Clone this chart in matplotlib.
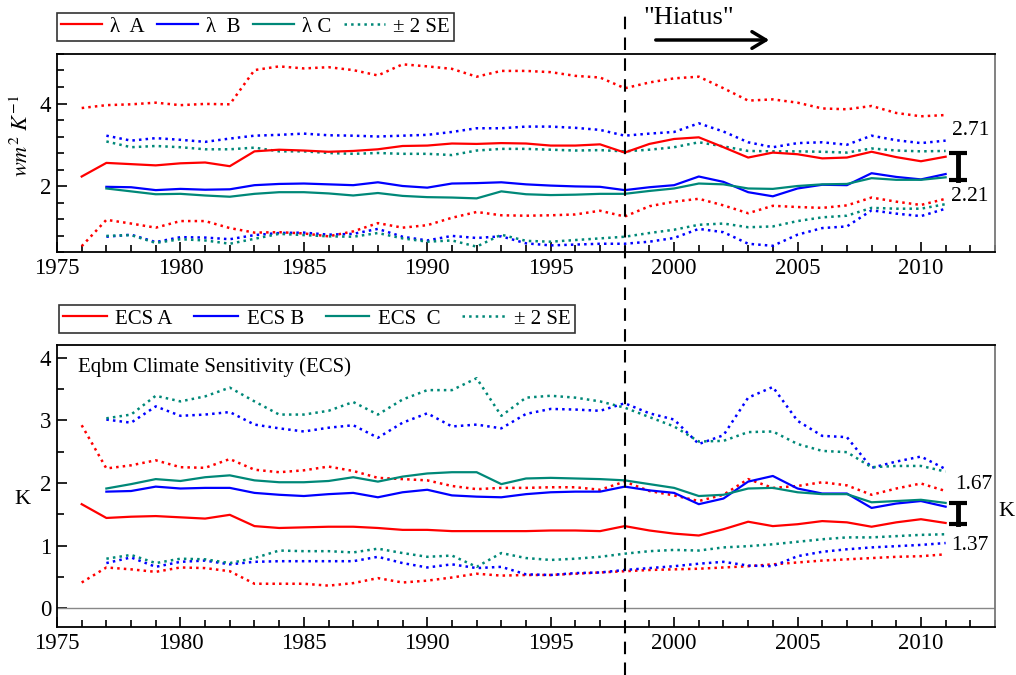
import matplotlib
matplotlib.use('Agg')
import matplotlib.pyplot as plt
from matplotlib.lines import Line2D
from matplotlib.patches import FancyArrowPatch
from matplotlib.ticker import MultipleLocator, FixedLocator

plt.rcParams['font.family'] = ['Liberation Serif', 'DejaVu Serif']
plt.rcParams['mathtext.fontset'] = 'stix'

# --- data ---
years = list(range(1976, 2012))

# top panel: lambda (wm^2 K^-1); A starts 1976, B and C start 1977
lam_a = [2.23, 2.56, 2.53, 2.50, 2.55, 2.57, 2.48, 2.84, 2.88, 2.86, 2.83, 2.85,
         2.89, 2.97, 2.98, 3.03, 3.02, 3.04, 3.03, 2.98, 2.98, 3.01, 2.81, 3.02,
         3.14, 3.18, 2.94, 2.69, 2.81, 2.77, 2.67, 2.69, 2.83, 2.70, 2.60, 2.71]
lam_a_hi = [3.89, 3.96, 3.98, 4.02, 3.96, 3.99, 3.98, 4.81, 4.90, 4.85, 4.88, 4.81,
            4.68, 4.95, 4.90, 4.84, 4.65, 4.79, 4.79, 4.76, 4.67, 4.63, 4.37, 4.51,
            4.61, 4.65, 4.37, 4.07, 4.10, 4.02, 3.88, 3.86, 3.94, 3.77, 3.69, 3.72]
lam_a_lo = [0.54, 1.18, 1.09, 0.99, 1.15, 1.15, 0.98, 0.87, 0.88, 0.85, 0.78, 0.90,
            1.10, 0.99, 1.05, 1.23, 1.37, 1.29, 1.28, 1.29, 1.31, 1.40, 1.26, 1.51,
            1.62, 1.69, 1.53, 1.34, 1.52, 1.49, 1.47, 1.53, 1.72, 1.62, 1.54, 1.69]
lam_b = [1.98, 1.97, 1.90, 1.93, 1.91, 1.92, 2.02, 2.05, 2.06, 2.04, 2.02, 2.09,
         2.00, 1.96, 2.06, 2.07, 2.09, 2.04, 2.01, 1.99, 1.98, 1.90, 1.97, 2.02,
         2.23, 2.10, 1.85, 1.75, 1.94, 2.03, 2.02, 2.31, 2.22, 2.16, 2.29]
lam_b_hi = [3.22, 3.10, 3.16, 3.12, 3.07, 3.15, 3.22, 3.24, 3.27, 3.23, 3.22, 3.20,
            3.22, 3.24, 3.31, 3.40, 3.40, 3.44, 3.44, 3.41, 3.36, 3.22, 3.27, 3.31,
            3.52, 3.32, 3.06, 2.94, 3.04, 3.06, 3.00, 3.22, 3.11, 3.04, 3.10]
lam_b_lo = [0.77, 0.82, 0.64, 0.76, 0.75, 0.71, 0.81, 0.86, 0.87, 0.82, 0.84, 0.96,
            0.77, 0.68, 0.79, 0.74, 0.78, 0.61, 0.56, 0.58, 0.60, 0.60, 0.65, 0.74,
            0.96, 0.88, 0.60, 0.55, 0.82, 0.98, 1.02, 1.41, 1.33, 1.27, 1.45]
lam_c = [1.94, 1.87, 1.80, 1.81, 1.77, 1.74, 1.81, 1.85, 1.85, 1.82, 1.77, 1.83,
         1.76, 1.73, 1.72, 1.70, 1.87, 1.80, 1.78, 1.79, 1.81, 1.81, 1.88, 1.94,
         2.06, 2.04, 1.94, 1.93, 2.00, 2.04, 2.05, 2.19, 2.15, 2.15, 2.21]
lam_c_hi = [3.08, 2.94, 2.97, 2.94, 2.89, 2.89, 2.93, 2.84, 2.84, 2.80, 2.78, 2.80,
            2.78, 2.78, 2.75, 2.86, 2.90, 2.90, 2.88, 2.86, 2.87, 2.84, 2.88, 2.94,
            3.06, 2.96, 2.85, 2.84, 2.84, 2.83, 2.81, 2.91, 2.86, 2.84, 2.85]
lam_c_lo = [0.79, 0.81, 0.62, 0.71, 0.68, 0.60, 0.72, 0.84, 0.81, 0.78, 0.77, 0.86,
            0.73, 0.65, 0.68, 0.53, 0.82, 0.67, 0.65, 0.69, 0.73, 0.77, 0.86, 0.94,
            1.06, 1.09, 1.00, 1.02, 1.15, 1.24, 1.28, 1.47, 1.45, 1.45, 1.56]

# bottom panel: ECS (K)
ecs_a = [1.66, 1.44, 1.46, 1.47, 1.45, 1.43, 1.49, 1.31, 1.28, 1.29, 1.30, 1.30,
         1.28, 1.25, 1.25, 1.23, 1.23, 1.23, 1.23, 1.24, 1.24, 1.23, 1.31, 1.24,
         1.19, 1.16, 1.26, 1.38, 1.31, 1.34, 1.39, 1.37, 1.30, 1.37, 1.42, 1.36]
ecs_a_hi = [2.92, 2.23, 2.28, 2.36, 2.25, 2.24, 2.38, 2.21, 2.17, 2.20, 2.26, 2.19,
            2.08, 2.06, 2.04, 1.95, 1.90, 1.92, 1.92, 1.93, 1.93, 1.89, 2.02, 1.87,
            1.80, 1.71, 1.81, 2.06, 1.92, 1.95, 2.01, 1.96, 1.81, 1.91, 1.99, 1.87]
ecs_a_lo = [0.41, 0.65, 0.62, 0.58, 0.65, 0.64, 0.59, 0.39, 0.39, 0.39, 0.36, 0.40,
            0.48, 0.41, 0.44, 0.49, 0.55, 0.52, 0.53, 0.53, 0.55, 0.57, 0.59, 0.61,
            0.62, 0.63, 0.65, 0.67, 0.70, 0.73, 0.76, 0.78, 0.80, 0.82, 0.83, 0.86]
ecs_b = [1.86, 1.87, 1.94, 1.91, 1.92, 1.92, 1.84, 1.81, 1.79, 1.82, 1.84, 1.77,
         1.85, 1.89, 1.80, 1.78, 1.77, 1.82, 1.85, 1.86, 1.86, 1.94, 1.88, 1.84,
         1.66, 1.75, 2.02, 2.11, 1.91, 1.83, 1.83, 1.60, 1.67, 1.71, 1.62]
ecs_b_hi = [3.01, 2.96, 3.22, 3.07, 3.09, 3.13, 2.93, 2.87, 2.82, 2.88, 2.92, 2.72,
            2.96, 3.11, 2.90, 2.93, 2.87, 3.10, 3.18, 3.17, 3.15, 3.27, 3.11, 3.01,
            2.62, 2.76, 3.36, 3.53, 2.99, 2.75, 2.73, 2.24, 2.34, 2.42, 2.22]
ecs_b_lo = [0.72, 0.81, 0.66, 0.74, 0.76, 0.70, 0.74, 0.75, 0.75, 0.75, 0.75, 0.82,
            0.72, 0.65, 0.70, 0.64, 0.66, 0.54, 0.53, 0.56, 0.57, 0.61, 0.64, 0.67,
            0.71, 0.74, 0.68, 0.67, 0.83, 0.90, 0.94, 0.97, 0.99, 1.01, 1.04]
ecs_c = [1.91, 1.98, 2.06, 2.03, 2.09, 2.12, 2.04, 2.01, 2.01, 2.03, 2.09, 2.02,
         2.10, 2.15, 2.17, 2.17, 1.98, 2.07, 2.08, 2.07, 2.06, 2.04, 1.98, 1.92,
         1.79, 1.81, 1.91, 1.92, 1.85, 1.82, 1.82, 1.69, 1.71, 1.73, 1.68]
ecs_c_hi = [3.03, 3.09, 3.39, 3.30, 3.38, 3.52, 3.30, 3.09, 3.09, 3.15, 3.29, 3.09,
            3.33, 3.48, 3.48, 3.67, 3.07, 3.36, 3.39, 3.36, 3.30, 3.20, 3.05, 2.90,
            2.66, 2.67, 2.81, 2.82, 2.62, 2.51, 2.49, 2.25, 2.27, 2.27, 2.18]
ecs_c_lo = [0.79, 0.85, 0.72, 0.79, 0.78, 0.72, 0.80, 0.92, 0.91, 0.91, 0.89, 0.95,
            0.88, 0.82, 0.84, 0.66, 0.88, 0.80, 0.77, 0.79, 0.82, 0.87, 0.91, 0.93,
            0.92, 0.97, 0.99, 1.02, 1.06, 1.10, 1.13, 1.13, 1.15, 1.17, 1.18]

hiatus_year = 1998
top_bar = [2.14, 2.81]
top_labels = ['2.71', '2.21']
bot_bar = [1.35, 1.68]
bot_labels = ['1.67', '1.37']

RED, BLUE, TEAL = '#ff0000', '#0000ff', '#008878'

fig = plt.figure(figsize=(10.16, 6.75), dpi=100)
W, H = 1016, 675
ax1 = fig.add_axes([57 / W, 1 - 252 / H, 938 / W, 198 / H])
ax2 = fig.add_axes([57 / W, 1 - 627 / H, 938 / W, 282 / H])

yrs_a = years
yrs_bc = years[1:]


def draw_panel(ax, a, a_hi, a_lo, b, b_hi, b_lo, c, c_hi, c_lo):
    lw, dlw = 1.6, 1.8
    ax.plot(yrs_a, a_hi, color=RED, lw=dlw, ls=':')
    ax.plot(yrs_a, a_lo, color=RED, lw=dlw, ls=':')
    ax.plot(yrs_bc, b_hi, color=BLUE, lw=dlw, ls=':')
    ax.plot(yrs_bc, b_lo, color=BLUE, lw=dlw, ls=':')
    ax.plot(yrs_bc, c_hi, color=TEAL, lw=dlw, ls=':')
    ax.plot(yrs_bc, c_lo, color=TEAL, lw=dlw, ls=':')
    ax.plot(yrs_a, a, color=RED, lw=lw)
    ax.plot(yrs_bc, b, color=BLUE, lw=lw)
    ax.plot(yrs_bc, c, color=TEAL, lw=lw)
    ax.set_xlim(1975, 2013)
    ax.xaxis.set_major_locator(MultipleLocator(5))
    ax.xaxis.set_minor_locator(MultipleLocator(1))
    ax.tick_params(which='both', direction='in', top=False, right=False,
                   labelsize=16.5, width=1.2)
    ax.tick_params(which='major', length=7, pad=4)
    ax.tick_params(which='minor', length=5)
    for s in ['left', 'bottom', 'top']:
        ax.spines[s].set_linewidth(1.3)
    ax.spines['right'].set_color('#777777')
    ax.spines['right'].set_linewidth(1.3)


draw_panel(ax1, lam_a, lam_a_hi, lam_a_lo, lam_b, lam_b_hi, lam_b_lo,
           lam_c, lam_c_hi, lam_c_lo)
draw_panel(ax2, ecs_a, ecs_a_hi, ecs_a_lo, ecs_b, ecs_b_hi, ecs_b_lo,
           ecs_c, ecs_c_hi, ecs_c_lo)

ax1.set_ylim(0.4, 5.2)
ax1.yaxis.set_major_locator(FixedLocator([2, 4]))
ax1.yaxis.set_minor_locator(MultipleLocator(0.4))
ax1.set_ylabel(r'$wm^2\ K^{-1}$', fontsize=16)
ax1.yaxis.set_label_coords(-0.0256, 0.588)

ax2.set_ylim(-0.3, 4.2)
ax2.yaxis.set_major_locator(MultipleLocator(1))
ax2.yaxis.set_minor_locator(MultipleLocator(0.5))
ax2.axhline(0, color='#888888', lw=1)
ax2.text(0.022, 0.955, 'Eqbm Climate Sensitivity (ECS)', transform=ax2.transAxes,
         fontsize=15, va='top', ha='left')
fig.text(22 / W, 1 - 500 / H, 'K', fontsize=16, ha='center', va='center')
fig.text(1006 / W, 1 - 512 / H, 'K', fontsize=16, ha='center', va='center')

# I-bars and end labels (offsets in points)
for ax, bar, labs, offs in [(ax1, top_bar, top_labels, ((-4, 16), (-5, -12))),
                            (ax2, bot_bar, bot_labels, ((-2, 13), (-5, -16)))]:
    ax.plot([2011.5, 2011.5], bar, color='black', lw=3.5, clip_on=False)
    for yv in bar:
        ax.plot([2011.15, 2011.85], [yv, yv], color='black', lw=3, clip_on=False,
                solid_capstyle='butt')
    ax.annotate(labs[0], (2011.5, bar[1]), xytext=offs[0], textcoords='offset points',
                fontsize=15.5, ha='left', va='center', annotation_clip=False)
    ax.annotate(labs[1], (2011.5, bar[0]), xytext=offs[1], textcoords='offset points',
                fontsize=15.5, ha='left', va='center', annotation_clip=False)

# legends
handles = [Line2D([], [], color=RED, lw=1.6), Line2D([], [], color=BLUE, lw=1.6),
           Line2D([], [], color=TEAL, lw=1.6), Line2D([], [], color=TEAL, lw=1.8, ls=':')]
leg_kw = dict(loc='upper left', ncol=4, fontsize=15, frameon=True, fancybox=False,
              edgecolor='black', borderaxespad=0, handletextpad=0.4, borderpad=0.2)
leg1 = fig.legend(handles, ['\u03bb  A', '\u03bb  B', '\u03bb C', '\u00b1 2 SE'],
                  bbox_to_anchor=(57 / W, 1 - 13 / H), handlelength=1.95,
                  columnspacing=0.6, **leg_kw)
leg1.get_frame().set_linewidth(1.2)
leg2 = fig.legend(handles, ['ECS A', 'ECS B', 'ECS  C', '\u00b1 2 SE'],
                  bbox_to_anchor=(59 / W, 1 - 305 / H), handlelength=2.1,
                  columnspacing=1.05, **leg_kw)
leg2.get_frame().set_linewidth(1.2)

# hiatus marker spanning the figure
xd = ax1.transData.transform((hiatus_year, 0))[0]
xf = fig.transFigure.inverted().transform((xd, 0))[0]
fig.add_artist(Line2D([xf, xf], [0, 1 - 15 / H], color='black', lw=1.5,
                      ls=(0, (6, 4)), transform=fig.transFigure))
fig.text(643 / W, 1 - 18 / H, '"Hiatus"', fontsize=19, ha='left', va='center')
fig.add_artist(FancyArrowPatch(
    (653 / W, 1 - 40 / H), (772 / W, 1 - 40 / H), transform=fig.transFigure,
    arrowstyle='->,head_length=10,head_width=6', lw=2.5, color='black',
    mutation_scale=1))

fig.savefig('out.png', dpi=100)
